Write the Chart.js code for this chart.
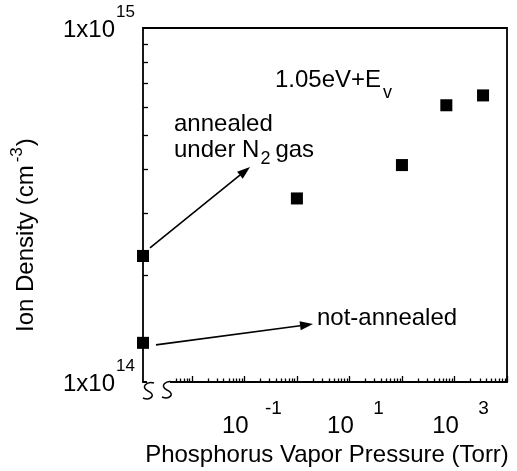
<!DOCTYPE html>
<html>
<head>
<meta charset="utf-8">
<script src="https://cdn.jsdelivr.net/npm/chart.js@4.4.1/dist/chart.umd.min.js"></script>
<style>
  html, body { margin: 0; padding: 0; background: #fff; }
  #wrap { width: 517px; height: 471px; position: relative; }
</style>
</head>
<body>
<div id="wrap"><canvas id="chart"></canvas></div>
<script>
// phosphorus-annealed samples
const pressureTorr = [1, 100, 700, 3500];
const ionDensity = [3.3e14, 4.1e14, 6.05e14, 6.45e14];

// reference samples, sitting on the broken part of the pressure axis
const referenceNames = ["annealed under N2 gas", "not-annealed"];
const referenceDensity = [2.27e14, 1.29e14];

const xMin = Math.pow(10, -2.93);
const xMax = 1e4;
const yMin = 1e14;
const yMax = 1e15;
const xTickExponents = [-1, 1, 3];
const yTickExponents = [14, 15];

const FONT = '"Liberation Sans", Arial, Helvetica, sans-serif';

const font = (size) => `${size}px ${FONT}`;

const arrow = (ctx, x0, y0, x1, y1) => {
  const ang = Math.atan2(y1 - y0, x1 - x0);
  const len = 13;
  const half = 4.5;
  const bx = x1 - len * Math.cos(ang);
  const by = y1 - len * Math.sin(ang);
  ctx.beginPath();
  ctx.moveTo(x0, y0);
  ctx.lineTo(bx, by);
  ctx.stroke();
  ctx.beginPath();
  ctx.moveTo(x1, y1);
  ctx.lineTo(bx + half * Math.sin(ang), by - half * Math.cos(ang));
  ctx.lineTo(bx - half * Math.sin(ang), by + half * Math.cos(ang));
  ctx.closePath();
  ctx.fill();
};

// one "S" of the axis break, hanging under the axis line
const sCurve = (ctx, cx, top) => {
  ctx.beginPath();
  ctx.moveTo(cx + 5, top);
  ctx.bezierCurveTo(cx - 2, top - 2, cx - 9, top + 4, cx - 1, top + 8);
  ctx.bezierCurveTo(cx + 8, top + 12, cx + 1, top + 18, cx - 6, top + 15);
  ctx.stroke();
};

const axesPlugin = {
  id: "axesPlugin",
  beforeDatasetsDraw(chart) {
    const { ctx, chartArea: a, scales } = chart;
    const x = scales.x;
    const y = scales.y;
    const breakEnd = a.left + 27;

    ctx.save();
    ctx.strokeStyle = "#000";
    ctx.lineWidth = 1.8;
    ctx.beginPath();
    ctx.moveTo(a.left + 4, a.bottom);
    ctx.lineTo(a.left, a.bottom);
    ctx.lineTo(a.left, a.top);
    ctx.lineTo(a.right, a.top);
    ctx.lineTo(a.right, a.bottom);
    ctx.lineTo(breakEnd, a.bottom);
    ctx.stroke();

    // axis break marks
    ctx.lineWidth = 1.5;
    sCurve(ctx, a.left + 6, a.bottom + 1);
    sCurve(ctx, a.left + 25, a.bottom);

    // log ticks on the pressure axis, pointing inward
    ctx.lineWidth = 1.3;
    for (let e = -3; e <= 4; e++) {
      for (let m = 1; m <= 9; m++) {
        const v = m * Math.pow(10, e);
        if (v > xMax * 1.0001) continue;
        const px = Math.round(x.getPixelForValue(v)) + 0.5;
        if (px < breakEnd + 3) continue;
        const len = m === 1 ? 6 : 3.5;
        ctx.beginPath();
        ctx.moveTo(px, a.bottom);
        ctx.lineTo(px, a.bottom - len);
        ctx.stroke();
      }
    }

    // minor ticks on the density axis
    for (let m = 2; m <= 9; m++) {
      const py = Math.round(y.getPixelForValue(m * yMin)) + 0.5;
      ctx.beginPath();
      ctx.moveTo(a.left, py);
      ctx.lineTo(a.left + 5, py);
      ctx.stroke();
    }
    ctx.restore();
  },
  afterDraw(chart) {
    const { ctx, chartArea: a, scales } = chart;
    const x = scales.x;
    const y = scales.y;
    ctx.save();
    ctx.fillStyle = "#000";
    ctx.strokeStyle = "#000";
    ctx.textBaseline = "alphabetic";

    // density tick labels 1x10^n
    yTickExponents.forEach((exp) => {
      const py = y.getPixelForValue(Math.pow(10, exp));
      ctx.font = font(24);
      ctx.textAlign = "right";
      ctx.fillText("1x10", a.left - 28, py + 9);
      ctx.font = font(17);
      ctx.textAlign = "left";
      ctx.fillText(String(exp), a.left - 27, py - 11);
    });

    // pressure tick labels 10^n
    xTickExponents.forEach((exp) => {
      const px = x.getPixelForValue(Math.pow(10, exp));
      ctx.font = font(24);
      ctx.textAlign = "center";
      ctx.fillText("10", px - 9, a.bottom + 51);
      ctx.font = font(19);
      ctx.fillText(String(exp), px + 29, a.bottom + 32);
    });

    // axis titles
    ctx.font = font(24);
    ctx.textAlign = "center";
    ctx.fillText("Phosphorus Vapor Pressure (Torr)", (a.left + a.right) / 2 + 2, a.bottom + 80);

    ctx.save();
    ctx.translate(33, 332);
    ctx.rotate(-Math.PI / 2);
    ctx.textAlign = "left";
    ctx.font = font(24);
    const mainTitle = "Ion Density (cm";
    ctx.fillText(mainTitle, 0, 0);
    let w = ctx.measureText(mainTitle).width + 3;
    ctx.font = font(17);
    ctx.fillText("-3", w, -11);
    w += ctx.measureText("-3").width + 1;
    ctx.font = font(24);
    ctx.fillText(")", w, 0);
    ctx.restore();

    // annotations
    ctx.textAlign = "left";
    ctx.font = font(24);
    ctx.fillText("1.05eV+E", 275, 87);
    const ew = ctx.measureText("1.05eV+E").width;
    ctx.font = font(18);
    ctx.fillText("v", 275 + ew + 2, 98);

    ctx.font = font(24);
    ctx.fillText("annealed", 174, 131);
    ctx.fillText("under N", 174, 157);
    let uw = ctx.measureText("under N").width;
    ctx.font = font(18);
    ctx.fillText("2", 174 + uw + 1, 164);
    uw += ctx.measureText("2").width + 6;
    ctx.font = font(24);
    ctx.fillText("gas", 174 + uw, 157);

    ctx.fillText("not-annealed", 317, 325);

    // arrows from the reference points to their labels
    ctx.lineWidth = 1.6;
    const refX = x.getPixelForValue(xMin);
    const ann = y.getPixelForValue(referenceDensity[0]);
    const notAnn = y.getPixelForValue(referenceDensity[1]);
    arrow(ctx, refX + 7, ann - 8, 250, 167);
    arrow(ctx, refX + 13, notAnn + 2, 313, 324);
    ctx.restore();
  }
};

const markerStyle = {
  showLine: false,
  pointStyle: "rect",
  pointRadius: 8.5,
  pointHoverRadius: 8.5,
  backgroundColor: "#000",
  borderColor: "#000",
  borderWidth: 0
};

new Chart(document.getElementById("chart"), {
  type: "scatter",
  data: {
    datasets: [
      Object.assign({
        label: "1.05eV+Ev",
        data: pressureTorr.map((p, i) => ({ x: p, y: ionDensity[i] }))
      }, markerStyle),
      Object.assign({
        label: "reference",
        data: referenceDensity.map((d) => ({ x: xMin, y: d })),
        clip: false
      }, markerStyle)
    ]
  },
  options: {
    responsive: true,
    maintainAspectRatio: false,
    animation: false,
    events: [],
    layout: { padding: { left: 143, right: 10, top: 28, bottom: 89 } },
    plugins: {
      legend: { display: false },
      tooltip: { enabled: false }
    },
    scales: {
      x: { type: "logarithmic", display: false, min: xMin, max: xMax },
      y: { type: "logarithmic", display: false, min: yMin, max: yMax }
    }
  },
  plugins: [axesPlugin]
});
</script>
</body>
</html>
